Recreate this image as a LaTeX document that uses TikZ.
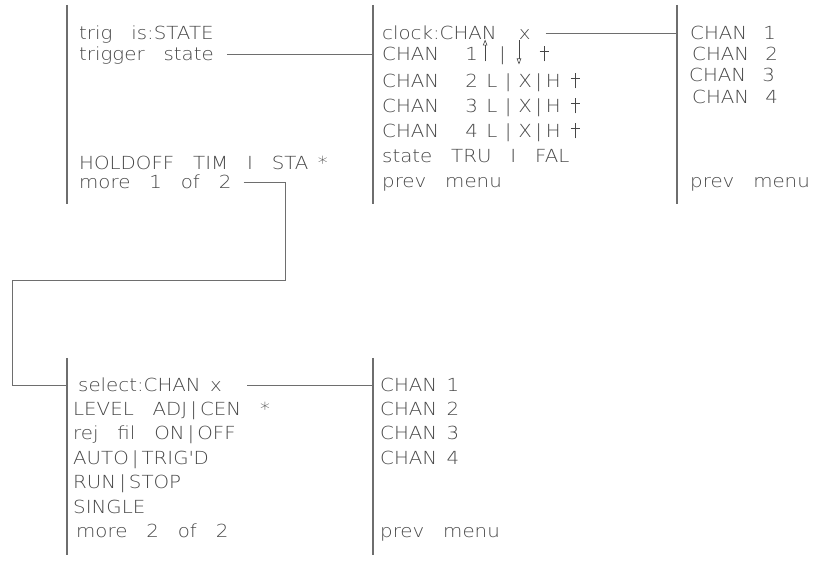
\documentclass[tikz,border=0pt]{standalone}
\usepackage{fontspec}
\usetikzlibrary{arrows.meta}
\newfontfamily\hp{DejaVuSans-ExtraLight.ttf}[FakeStretch=1.1, WordSpace=1.5]
\definecolor{txtc}{RGB}{70,70,70}
\definecolor{linec}{RGB}{110,110,110}
\newcommand{\uparr}{\tikz[baseline=0pt]\draw[txtc, line width=0.6pt, -{Triangle[open, length=6pt, width=4.5pt]}] (0pt,-1pt) -- (0pt,21pt);}
\newcommand{\downarr}{\tikz[baseline=0pt]\draw[txtc, line width=0.6pt, -{Triangle[open, length=6pt, width=4.5pt]}] (0pt,20pt) -- (0pt,-4pt);}
\newcommand{\dagg}{\tikz[baseline=0pt]{\draw[txtc, line width=0.6pt] (0pt,-1pt) -- (0pt,14pt); \draw[txtc, line width=0.6pt] (-4.5pt,9pt) -- (4.5pt,9pt);}}
\newcommand{\chrow}[1]{CHAN\hspace{26pt}#1\hspace{8.4pt}L\hspace{7.7pt}|\hspace{6.6pt}X\hspace{3.5pt}|\hspace{3.8pt}H\hspace{10pt}\dagg}
\begin{document}
\begin{tikzpicture}[x=1pt,y=-1pt,
  txt/.style={anchor=west, inner sep=0pt, text height=13pt, text depth=0pt,
    font=\hp\fontsize{18}{18}\selectfont, text=txtc},
  conn/.style={draw=linec, line width=0.9pt},
  bar/.style={draw=linec, line width=1.1pt}]
\useasboundingbox (0,0) rectangle (817,561);
% panel bars
\coordinate (Ltop) at (67,5);   \coordinate (Lbot) at (67,204);
\coordinate (Mtop) at (373,5);  \coordinate (Mbot) at (373,204);
\coordinate (Rtop) at (677,5);  \coordinate (Rbot) at (677,204);
\coordinate (BLtop) at (67,358);  \coordinate (BLbot) at (67,555);
\coordinate (BMtop) at (373,358); \coordinate (BMbot) at (373,555);
\draw[bar] (Ltop) -- (Lbot);
\draw[bar] (Mtop) -- (Mbot);
\draw[bar] (Rtop) -- (Rbot);
\draw[bar] (BLtop) -- (BLbot);
\draw[bar] (BMtop) -- (BMbot);
% left top panel
\node[txt] (trig)   at (79,33)  {trig\ \ is:STATE};
\node[txt] (tstate) at (79,54)  {trigger\ \ state};
\node[txt] (hold)   at (79,163) {HOLDOFF\ \ TIM\ \ I\ \ STA\ *};
\node[txt] (more1)  at (79,182) {more\ \ 1\ \ of\ \ 2};
% middle top panel
\node[txt] (clock) at (382,33)  {clock:CHAN\hspace{22pt}x};
\node[txt] (c1)    at (382,54)  {CHAN\hspace{26pt}1\hspace{5pt}\uparr\hspace{11.7pt}|\hspace{11pt}\downarr\hspace{18pt}\dagg};
\node[txt] (c2)    at (382,81)  {\chrow{2}};
\node[txt] (c3)    at (382,106) {\chrow{3}};
\node[txt] (c4)    at (382,131) {\chrow{4}};
\node[txt] (st)    at (382,156) {state\ \ TRU\ \ I\ \ FAL};
\node[txt] (prev1) at (382,181) {prev\ \ menu};
% right top panel
\node[txt] (r1) at (690,33)  {CHAN\hspace{16pt}1};
\node[txt] (r2) at (692,54)  {CHAN\hspace{16pt}2};
\node[txt] (r3) at (689,75)  {CHAN\hspace{16pt}3};
\node[txt] (r4) at (692,97)  {CHAN\hspace{16pt}4};
\node[txt] (prev2) at (690,181) {prev\ \ menu};
% bottom left panel
\node[txt] (sel)   at (78,385) {select:CHAN\ x};
\node[txt] (lev)   at (73,409) {LEVEL\ \ ADJ\,|\,CEN\ \ *};
\node[txt] (rej)   at (73,433) {rej\ \ fil\ \ ON\,|\,OFF};
\node[txt] (auto)  at (73,458) {AUTO\,|\,TRIG\textquotesingle D};
\node[txt] (run)   at (73,482) {RUN\,|\,STOP};
\node[txt] (single) at (73,507) {SINGLE};
\node[txt] (more2) at (76,531) {more\ \ 2\ \ of\ \ 2};
% bottom middle panel
\node[txt] (b1) at (380,385) {CHAN\ 1};
\node[txt] (b2) at (380,409) {CHAN\ 2};
\node[txt] (b3) at (380,433) {CHAN\ 3};
\node[txt] (b4) at (380,458) {CHAN\ 4};
\node[txt] (prev3) at (380,531) {prev\ \ menu};
% connectors
\coordinate (k1) at (285,280);
\coordinate (k2) at (12,280);
\draw[conn] ([xshift=13pt]tstate.east) -- (tstate.east -| Mtop);
\draw[conn] ([xshift=15pt]clock.east) -- (clock.east -| Rtop);
\draw[conn] ([xshift=12pt]more1.east) -| (k1) -- (k2) |- (sel.west -| BLtop);
\draw[conn] ([xshift=25pt]sel.east) -- (sel.east -| BMtop);
\end{tikzpicture}
\end{document}
